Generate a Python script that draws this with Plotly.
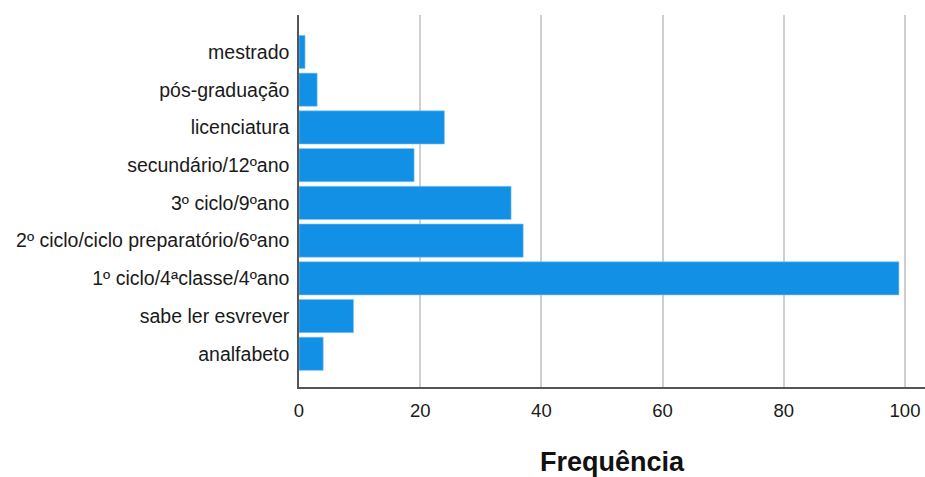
import plotly.graph_objects as go

categories = ["analfabeto", "sabe ler esvrever", "1º ciclo/4ªclasse/4ºano",
              "2º ciclo/ciclo preparatório/6ºano", "3º ciclo/9ºano",
              "secundário/12ºano", "licenciatura", "pós-graduação", "mestrado"]
values = [4, 9, 99, 37, 35, 19, 24, 3, 1]
x_ticks = [0, 20, 40, 60, 80, 100]

fig = go.Figure(go.Bar(
    y=categories, x=values, orientation="h",
    marker=dict(color="#1190E6", line=dict(color="#8CC8F2", width=0.6)),
    width=0.88,
))

fig.update_layout(
    width=925, height=477,
    margin=dict(l=299, r=0, t=15, b=90),
    plot_bgcolor="white", paper_bgcolor="white",
    font=dict(family="Liberation Sans, Arial, sans-serif", size=19, color="#1a1a1a"),
    showlegend=False,
    xaxis=dict(
        range=[0, 103.3], tickvals=x_ticks, showgrid=True, gridcolor="#CFCFCF", gridwidth=2,
        showline=True, linecolor="#555555", linewidth=1.5, zeroline=False,
        ticks="", tickfont=dict(size=18.5), ticklabelstandoff=6, ticklabeloverflow="allow",
        title=dict(text="Frequência", font=dict(size=27, family="Liberation Sans, Arial, sans-serif", color="#111111", weight="bold"), standoff=34),
    ),
    yaxis=dict(
        type="category", categoryorder="array", categoryarray=categories,
        range=[-0.88, 8.98], showgrid=False, showline=True, linecolor="#555555", linewidth=1.5,
        ticks="", tickfont=dict(size=19.5), ticklabelstandoff=4,
    ),
)

fig.write_html(
    "out.html",
    config={"displayModeBar": False},
    post_script="document.body.style.margin='0';document.body.style.overflow='hidden';",
)
